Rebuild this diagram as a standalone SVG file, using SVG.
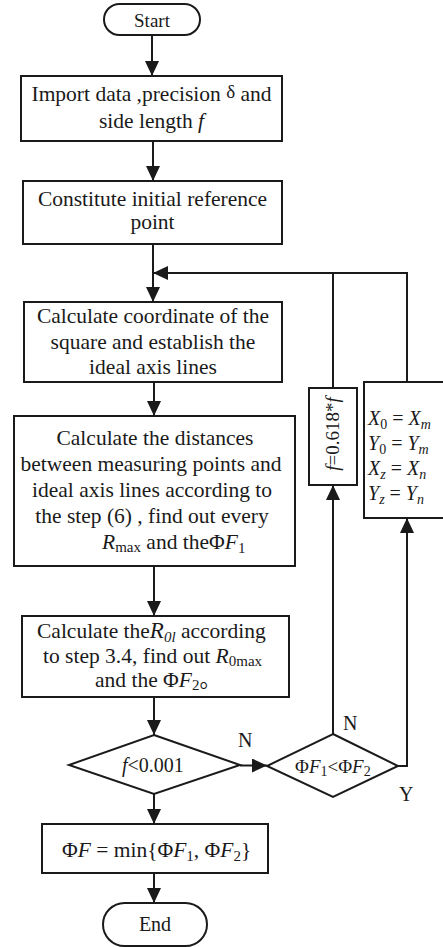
<svg xmlns="http://www.w3.org/2000/svg" width="443" height="947" viewBox="0 0 443 947">
<defs>
<marker id="ah" viewBox="0 0 15 14" refX="15" refY="7" markerWidth="15" markerHeight="14" markerUnits="userSpaceOnUse" orient="auto">
<path d="M0,0 L15,7 L0,14 Z" fill="#1a1a1a"/>
</marker>
<style>
.s{fill:#fff;stroke:#1a1a1a;stroke-width:2}
.c{fill:none;stroke:#1a1a1a;stroke-width:2}
text{font-family:"Liberation Serif","Noto Sans CJK SC",serif;font-size:21.5px;fill:#1a1a1a}
.m{text-anchor:middle}
.i{font-style:italic}
.sm{font-size:15px}
.lb{font-size:20px}
.x{font-size:20px}
.xs{font-size:14px}
</style>
</defs>
<g id="start">
<rect class="s" x="104" y="4" width="96" height="31" rx="15.5"/>
<text class="m" x="152" y="27" style="font-size:19px">Start</text>
</g>
<g id="import">
<rect class="s" x="21" y="76" width="261" height="65"/>
<text class="m" x="151.5" y="101">Import data ,precision <tspan style="font-size:19px" dy="-3">δ</tspan><tspan dy="3"> and</tspan></text>
<text class="m" x="151.5" y="128">side length <tspan class="i">f</tspan></text>
</g>
<g id="constitute">
<rect class="s" x="23" y="181" width="259" height="63"/>
<text class="m" x="152.5" y="206">Constitute initial reference</text>
<text class="m" x="152.5" y="229">point</text>
</g>
<g id="coord">
<rect class="s" x="24" y="302" width="258" height="80"/>
<text class="m" x="153" y="323">Calculate coordinate of the</text>
<text class="m" x="153" y="349">square and establish the</text>
<text class="m" x="153" y="374">ideal axis lines</text>
</g>
<g id="dist">
<rect class="s" x="14" y="416" width="281" height="150"/>
<text class="m" x="155" y="445">Calculate the distances</text>
<text class="m" x="151" y="471">between measuring points and</text>
<text class="m" x="152" y="497">ideal axis lines according to</text>
<text class="m" x="152" y="523">the step (6) , find out every</text>
<text x="102" y="549"><tspan class="i">R</tspan><tspan class="sm" dy="3">max</tspan><tspan dy="-3"> and the</tspan>Φ<tspan class="i">F</tspan><tspan class="sm" dy="4">1</tspan></text>
</g>
<g id="r0l">
<rect class="s" x="22" y="616" width="267" height="81"/>
<text x="37" y="638">Calculate the<tspan class="i" style="font-size:23px">R</tspan><tspan class="i sm" dy="4">0l</tspan><tspan dy="-4"> according</tspan></text>
<text x="43" y="663">to step 3.4, find out  <tspan class="i">R</tspan><tspan class="sm" dy="3">0max</tspan></text>
<text x="95" y="687">and the Φ<tspan class="i">F</tspan><tspan class="sm" dy="3">2</tspan><tspan dy="-3">。</tspan></text>
</g>
<g id="check1">
<polygon class="s" points="154,735 240,765 154,794 69,765"/>
<text x="122" y="772" style="font-size:20px"><tspan class="i">f</tspan>&lt;0.001</text>
</g>
<g id="check2">
<polygon class="s" points="333,734 398,766 333,797 267,766"/>
<text x="295" y="773" style="font-size:19px">Φ<tspan class="i">F</tspan><tspan style="font-size:14px" dy="3">1</tspan><tspan dy="-3">&lt;Φ</tspan><tspan class="i">F</tspan><tspan style="font-size:14px" dy="3">2</tspan></text>
</g>
<g id="shrink">
<rect class="s" x="309" y="388" width="48" height="97"/>
<text class="m" transform="translate(339,434) rotate(-90)" style="font-size:19px"><tspan class="i">f</tspan>=0.618*<tspan class="i">f</tspan></text>
</g>
<g id="update">
<rect class="s" x="364" y="382" width="90" height="136"/>
<text x="368" y="425" class="x"><tspan class="i">X</tspan><tspan class="xs" dy="4">0</tspan><tspan dy="-4"> = </tspan><tspan class="i">X</tspan><tspan class="i xs" dy="4">m</tspan></text>
<text x="368" y="450" class="x"><tspan class="i">Y</tspan><tspan class="xs" dy="4">0</tspan><tspan dy="-4"> = </tspan><tspan class="i">Y</tspan><tspan class="i xs" dy="4">m</tspan></text>
<text x="368" y="475" class="x"><tspan class="i">X</tspan><tspan class="i xs" dy="4">z</tspan><tspan dy="-4"> = </tspan><tspan class="i">X</tspan><tspan class="i xs" dy="4">n</tspan></text>
<text x="368" y="500" class="x"><tspan class="i">Y</tspan><tspan class="i xs" dy="4">z</tspan><tspan dy="-4"> = </tspan><tspan class="i">Y</tspan><tspan class="i xs" dy="4">n</tspan></text>
</g>
<g id="result">
<rect class="s" x="42" y="824" width="226" height="49"/>
<text x="62" y="857">Φ<tspan class="i">F</tspan> = min{Φ<tspan class="i">F</tspan><tspan class="sm" dy="4">1</tspan><tspan dy="-4">, Φ</tspan><tspan class="i">F</tspan><tspan class="sm" dy="4">2</tspan><tspan dy="-4">}</tspan></text>
</g>
<g id="end">
<rect class="s" x="103" y="903" width="104" height="43" rx="21.5"/>
<text class="m" x="155" y="931" style="font-size:20px">End</text>
</g>
<g id="connectors">
<line class="c" x1="152" y1="35" x2="152" y2="76" marker-end="url(#ah)"/>
<line class="c" x1="153" y1="141" x2="153" y2="181" marker-end="url(#ah)"/>
<line class="c" x1="153" y1="244" x2="153" y2="302" marker-end="url(#ah)"/>
<line class="c" x1="154" y1="382" x2="154" y2="416" marker-end="url(#ah)"/>
<line class="c" x1="154" y1="566" x2="154" y2="616" marker-end="url(#ah)"/>
<line class="c" x1="154" y1="697" x2="154" y2="735" marker-end="url(#ah)"/>
<line class="c" x1="154" y1="794" x2="154" y2="824" marker-end="url(#ah)"/>
<line class="c" x1="154" y1="873" x2="154" y2="903" marker-end="url(#ah)"/>
<line class="c" x1="240" y1="765.5" x2="267" y2="765.5" marker-end="url(#ah)"/>
<line class="c" x1="333" y1="734" x2="333" y2="485" marker-end="url(#ah)"/>
<polyline class="c" points="398,766 407,766 407,518" marker-end="url(#ah)"/>
<polyline class="c" points="333,388 333,273 407,273 407,382"/>
<line class="c" x1="333" y1="273" x2="153" y2="273" marker-end="url(#ah)"/>
<text x="238" y="747" class="lb">N</text>
<text x="343" y="730" class="lb">N</text>
<text x="399" y="801" class="lb">Y</text>
</g>
</svg>
